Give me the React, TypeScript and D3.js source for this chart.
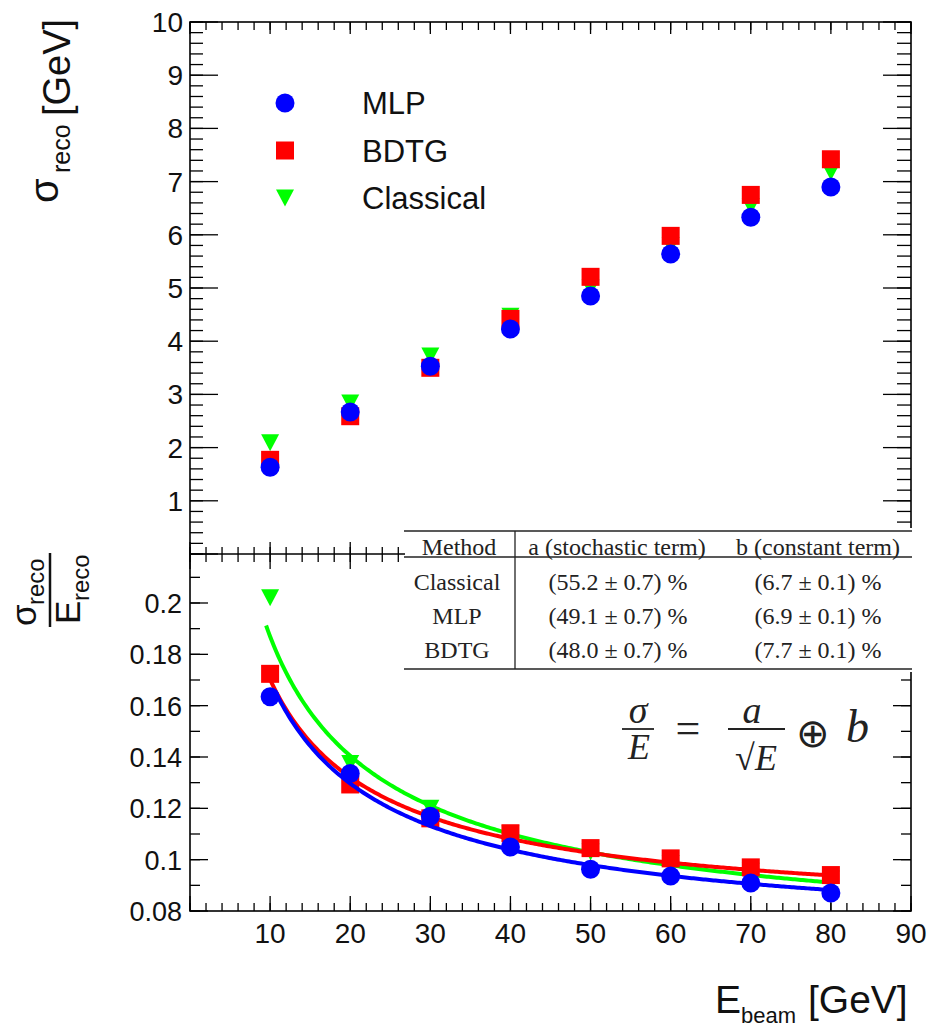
import React from 'react';
import * as d3 from 'd3';

// ---------------- data ----------------
const energies = [10, 20, 30, 40, 50, 60, 70, 80];

// top panel: sigma_reco [GeV]
const sigmaMLP = [1.63, 2.67, 3.53, 4.23, 4.85, 5.64, 6.33, 6.9];
const sigmaBDTG = [1.77, 2.59, 3.5, 4.42, 5.21, 5.98, 6.75, 7.42];
const sigmaClassical = [2.09, 2.84, 3.72, 4.47, 5.0, 5.8, 6.53, 7.18];

// bottom panel: sigma_reco / E_reco
const resMLP = [0.1635, 0.1336, 0.1169, 0.1049, 0.0963, 0.0936, 0.0909, 0.087];
const resBDTG = [0.1724, 0.1293, 0.1161, 0.1103, 0.1045, 0.1005, 0.097, 0.094];
const resClassical = [0.202, 0.1375, 0.12, 0.11, 0.103, 0.0985, 0.0955, 0.0925];

// fit table (Classical, MLP, BDTG)
const methods = ['Classical', 'MLP', 'BDTG'];
const stochA = [55.2, 49.1, 48.0];
const stochAErr = [0.7, 0.7, 0.7];
const constB = [6.7, 6.9, 7.7];
const constBErr = [0.1, 0.1, 0.1];
const fitStart = [9.5, 10.6, 9.8];
const fitEnd = [80.5, 80.5, 80.8];

// legend
const legendLabels = ['MLP', 'BDTG', 'Classical'];

// ticks
const xTickLabels = [10, 20, 30, 40, 50, 60, 70, 80, 90];
const topYTickLabels = [1, 2, 3, 4, 5, 6, 7, 8, 9, 10];
const bottomYTickLabels = ['0.08', '0.1', '0.12', '0.14', '0.16', '0.18', '0.2'];

// ---------------- layout ----------------
const W = 933;
const H = 1032;
const L = 190;
const R = 911;
const T = 22;
const MID = 554;
const B = 911;

const BLUE = '#0000ff';
const RED = '#ff0000';
const GREEN = '#00ff00';
const SANS = '"Liberation Sans", Arial, Helvetica, sans-serif';
const SERIF = '"Liberation Serif", "Times New Roman", serif';

const x = d3.scaleLinear().domain([0, 90]).range([L, R]);
const yTop = d3.scaleLinear().domain([0, 10]).range([MID, T]);
const yBot = d3.scaleLinear().domain([0.08, 0.08 + (B - MID) / 2566.7]).range([B, MID]);

type Shape = 'circle' | 'square' | 'tri';

function Marker({ shape, cx, cy, color }: { shape: Shape; cx: number; cy: number; color: string }) {
  if (shape === 'circle') return <circle cx={cx} cy={cy} r={9.5} fill={color} />;
  if (shape === 'square') return <rect x={cx - 9} y={cy - 9} width={18} height={18} fill={color} />;
  return <polygon points={`${cx - 9},${cy - 8.5} ${cx + 9},${cy - 8.5} ${cx},${cy + 8.5}`} fill={color} />;
}

function fitValue(E: number, a: number, b: number) {
  return Math.sqrt((a / 100) ** 2 / E + (b / 100) ** 2);
}

export default function App() {
  const tickStroke = { stroke: '#000', strokeWidth: 1.3 };

  const topYMajor = d3.range(0, 10.001, 1);
  const topYMinor = d3.range(0, 10.001, 0.2);
  const xMajor = d3.range(0, 90.001, 10);
  const xMinor = d3.range(0, 90.001, 2);
  const botYMajor = d3.range(0.08, 0.2191, 0.02);
  const botYMinor = d3.range(0.08, 0.2191, 0.01);

  const makeCurve = (i: number) => {
    const samples = d3.range(fitStart[i], fitEnd[i] + 0.001, 0.25);
    return (
      d3
        .line<number>()
        .x((e) => x(e))
        .y((e) => yBot(fitValue(e, stochA[i], constB[i])))(samples) || ''
    );
  };

  const topSeries = [
    { vals: sigmaClassical, shape: 'tri' as Shape, color: GREEN },
    { vals: sigmaBDTG, shape: 'square' as Shape, color: RED },
    { vals: sigmaMLP, shape: 'circle' as Shape, color: BLUE },
  ];
  const botSeries = [
    { vals: resClassical, shape: 'tri' as Shape, color: GREEN, fit: 0 },
    { vals: resBDTG, shape: 'square' as Shape, color: RED, fit: 2 },
    { vals: resMLP, shape: 'circle' as Shape, color: BLUE, fit: 1 },
  ];
  const legendShapes: Shape[] = ['circle', 'square', 'tri'];
  const legendColors = [BLUE, RED, GREEN];

  return (
    <svg width={W} height={H} style={{ position: 'absolute', left: 0, top: 0, background: '#fff' }}>
      <rect x={0} y={0} width={W} height={H} fill="#fff" />

      {/* ---------- ticks ---------- */}
      {topYMinor.map((v, i) => (
        <g key={'tym' + i}>
          <line x1={L} x2={L + 13} y1={yTop(v)} y2={yTop(v)} {...tickStroke} />
          <line x1={R} x2={R - 14} y1={yTop(v)} y2={yTop(v)} {...tickStroke} />
        </g>
      ))}
      {topYMajor.map((v, i) => (
        <g key={'tyM' + i}>
          <line x1={L} x2={L + 28} y1={yTop(v)} y2={yTop(v)} {...tickStroke} />
          <line x1={R} x2={R - 28} y1={yTop(v)} y2={yTop(v)} {...tickStroke} />
        </g>
      ))}
      {xMinor.map((v, i) => (
        <g key={'txm' + i}>
          <line x1={x(v)} x2={x(v)} y1={T} y2={T + 8} {...tickStroke} />
          <line x1={x(v)} x2={x(v)} y1={MID} y2={MID - 7} {...tickStroke} />
          <line x1={x(v)} x2={x(v)} y1={MID} y2={MID + 8} {...tickStroke} />
          <line x1={x(v)} x2={x(v)} y1={B} y2={B - 8} {...tickStroke} />
        </g>
      ))}
      {xMajor.map((v, i) => (
        <g key={'txM' + i}>
          <line x1={x(v)} x2={x(v)} y1={T} y2={T + 12} {...tickStroke} />
          <line x1={x(v)} x2={x(v)} y1={MID} y2={MID - 12} {...tickStroke} />
          <line x1={x(v)} x2={x(v)} y1={MID} y2={MID + 15} {...tickStroke} />
          <line x1={x(v)} x2={x(v)} y1={B} y2={B - 15} {...tickStroke} />
        </g>
      ))}
      {botYMinor.map((v, i) => (
        <g key={'bym' + i}>
          <line x1={L} x2={L + 10} y1={yBot(v)} y2={yBot(v)} {...tickStroke} />
          <line x1={R} x2={R - 10} y1={yBot(v)} y2={yBot(v)} {...tickStroke} />
        </g>
      ))}
      {botYMajor.map((v, i) => (
        <g key={'byM' + i}>
          <line x1={L} x2={L + 18} y1={yBot(v)} y2={yBot(v)} {...tickStroke} />
          <line x1={R} x2={R - 18} y1={yBot(v)} y2={yBot(v)} {...tickStroke} />
        </g>
      ))}

      {/* frames */}
      <rect x={L} y={T} width={R - L} height={B - T} fill="none" stroke="#000" strokeWidth={1.6} />
      <line x1={L} x2={R} y1={MID} y2={MID} stroke="#000" strokeWidth={1.6} />

      {/* tick labels */}
      {topYTickLabels.map((v) => (
        <text key={'tyl' + v} x={183} y={yTop(v) + 10} textAnchor="end" fontFamily={SANS} fontSize={28} fill="#111">
          {v}
        </text>
      ))}
      {bottomYTickLabels.map((s) => (
        <text key={'byl' + s} x={182} y={yBot(+s) + 10} textAnchor="end" fontFamily={SANS} fontSize={27} fill="#111">
          {s}
        </text>
      ))}
      {xTickLabels.map((v) => (
        <text key={'xl' + v} x={x(v)} y={943} textAnchor="middle" fontFamily={SANS} fontSize={28} fill="#111">
          {v}
        </text>
      ))}

      {/* ---------- top panel markers ---------- */}
      {topSeries.map((s, si) => (
        <g key={'ts' + si}>
          {energies.map((e, i) => (
            <Marker key={i} shape={s.shape} cx={x(e)} cy={yTop(s.vals[i])} color={s.color} />
          ))}
        </g>
      ))}

      {/* legend */}
      {legendLabels.map((lab, i) => (
        <g key={'lg' + i}>
          <Marker shape={legendShapes[i]} cx={285} cy={103 + i * 47.5} color={legendColors[i]} />
          <text x={362} y={114 + i * 47.5} fontFamily={SANS} fontSize={31} fill="#111">
            {lab}
          </text>
        </g>
      ))}

      {/* ---------- bottom panel ---------- */}
      {botSeries.map((s, si) => (
        <g key={'bs' + si}>
          <path d={makeCurve(s.fit)} fill="none" stroke={s.color} strokeWidth={4} />
          {energies.map((e, i) => (
            <Marker key={i} shape={s.shape} cx={x(e)} cy={yBot(s.vals[i])} color={s.color} />
          ))}
        </g>
      ))}

      {/* table */}
      <g>
        <rect x={405} y={528} width={512} height={144} fill="#fff" />
        <line x1={404} x2={912} y1={531} y2={531} stroke="#222" strokeWidth={1.6} />
        <line x1={404} x2={912} y1={557} y2={557} stroke="#222" strokeWidth={1.3} />
        <line x1={404} x2={912} y1={669} y2={669} stroke="#222" strokeWidth={1.6} />
        <line x1={515} x2={515} y1={531} y2={669} stroke="#222" strokeWidth={1.3} />
        <g fontFamily={SERIF} fontSize={24} fill="#222" textAnchor="middle">
          <text x={459} y={555}>Method</text>
          <text x={617} y={555}>a (stochastic term)</text>
          <text x={818} y={555}>b (constant term)</text>
          {methods.map((m, i) => (
            <g key={'row' + i}>
              <text x={457} y={590 + i * 34}>{m}</text>
              <text x={618} y={590 + i * 34}>
                ({stochA[i].toFixed(1)} ± {stochAErr[i].toFixed(1)}) %
              </text>
              <text x={818} y={590 + i * 34}>
                ({constB[i].toFixed(1)} ± {constBErr[i].toFixed(1)}) %
              </text>
            </g>
          ))}
        </g>
      </g>

      {/* formula */}
      <g fontFamily={SERIF} fill="#222">
        <text x={638} y={723} textAnchor="middle" fontSize={38} fontStyle="italic">σ</text>
        <line x1={622} x2={654} y1={729} y2={729} stroke="#222" strokeWidth={1.8} />
        <text x={639} y={759} textAnchor="middle" fontSize={36} fontStyle="italic">E</text>
        <text x={688} y={743} textAnchor="middle" fontSize={44}>=</text>
        <text x={752} y={723} textAnchor="middle" fontSize={38} fontStyle="italic">a</text>
        <line x1={728} x2={785} y1={729} y2={729} stroke="#222" strokeWidth={1.8} />
        <text x={756} y={770} textAnchor="middle" fontSize={36}>
          √<tspan fontStyle="italic">E</tspan>
        </text>
        <text x={813} y={747} textAnchor="middle" fontSize={40}>⊕</text>
        <text x={846} y={742} fontSize={46} fontStyle="italic">b</text>
      </g>

      {/* axis titles */}
      <g transform="translate(70,203) rotate(-90)" fontFamily={SANS} fill="#111">
        <text x={0} y={-12} fontSize={40}>σ</text>
        <text x={30} y={0} fontSize={25}>reco</text>
        <text x={87} y={0} fontSize={38}>[GeV]</text>
      </g>

      <g transform="translate(50,590) rotate(-90)" fontFamily={SANS} fill="#111">
        <line x1={-37} x2={37} y1={0} y2={0} stroke="#111" strokeWidth={2.5} />
        <text x={-36} y={-14} fontSize={35}>σ</text>
        <text x={-15} y={-6} fontSize={24}>reco</text>
        <text x={-34} y={30} fontSize={35}>E</text>
        <text x={-11} y={39} fontSize={24}>reco</text>
      </g>

      <g fontFamily={SANS} fill="#111">
        <text x={715} y={1013} fontSize={39}>E</text>
        <text x={741} y={1023} fontSize={22}>beam</text>
        <text x={808} y={1013} fontSize={39}>[GeV]</text>
      </g>
    </svg>
  );
}
